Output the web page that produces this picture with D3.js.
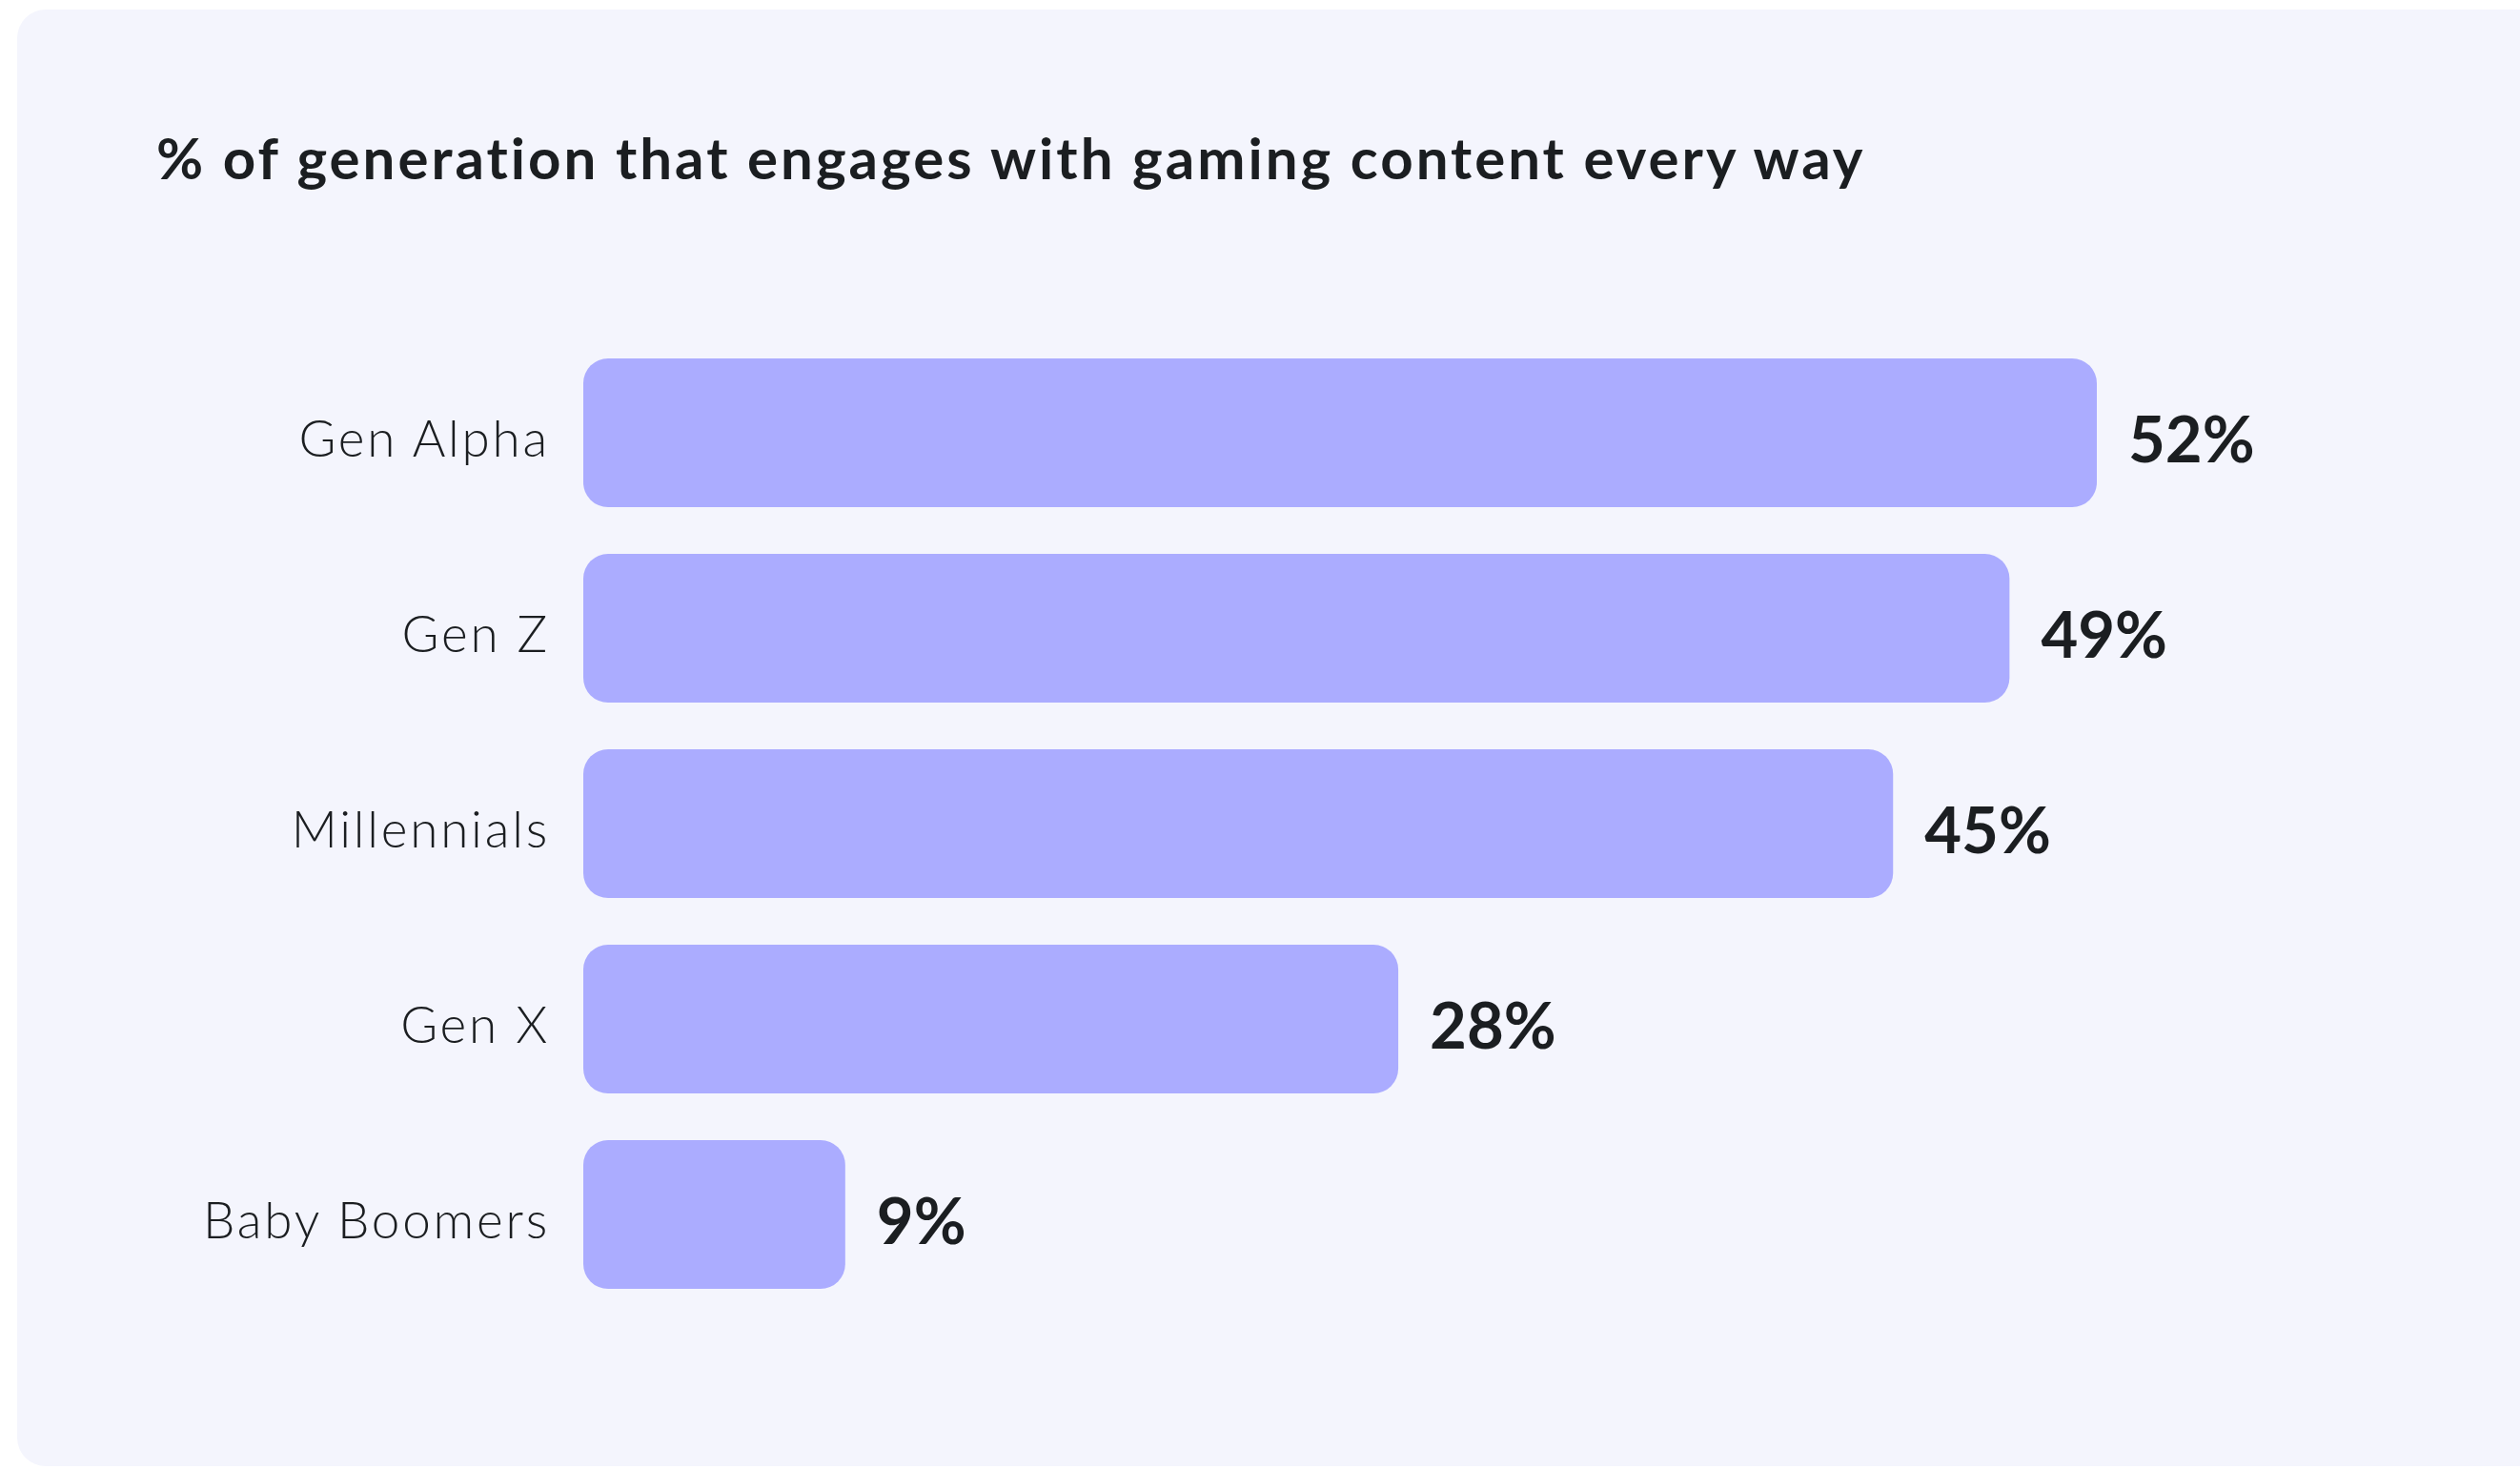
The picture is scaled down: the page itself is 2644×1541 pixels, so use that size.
<!DOCTYPE html>
<html>
<head>
<meta charset="utf-8">
<script src="https://cdn.jsdelivr.net/npm/d3@7"></script>
<style>
  html, body { margin: 0; padding: 0; background: #ffffff; }
  svg { display: block; }
  text { font-variant-ligatures: none; font-feature-settings: "liga" 0; }
</style>
</head>
<body>
<svg id="chart" width="2644" height="1541"></svg>
<script>
// Share of each generation that engages with gaming content in every way (%)
const generations = ["Gen Alpha", "Gen Z", "Millennials", "Gen X", "Baby Boomers"];
const shares = [52, 49, 45, 28, 9];
const chartTitle = "% of generation that engages with gaming content every way";

const data = generations.map((g, i) => ({ name: g, value: shares[i] }));

const W = 2644, H = 1541;
const svg = d3.select("#chart");

const FONT = "Lato, 'Open Sans', sans-serif";
const INK = "#1b1e21";
const BAR = "#abacff";

// Card background
svg.append("rect")
  .attr("x", 18).attr("y", 10)
  .attr("width", W + 40).attr("height", 1528)
  .attr("rx", 30).attr("ry", 30)
  .attr("fill", "#f4f5fd");

// Title
svg.append("text")
  .attr("x", 164).attr("y", 188)
  .attr("font-family", FONT)
  .attr("font-weight", 700)
  .attr("font-size", 60)
  .attr("letter-spacing", 3.0)
  .attr("fill", INK)
  .text(chartTitle);

// Scales
const x = d3.scaleLinear()
  .domain([0, 52])
  .range([612, 2200]);

const y = d3.scaleBand()
  .domain(generations)
  .range([376, 1352])
  .paddingInner(0.239)
  .paddingOuter(0);

// Bars
svg.append("g")
  .selectAll("rect")
  .data(data)
  .join("rect")
  .attr("x", x(0))
  .attr("y", d => y(d.name))
  .attr("width", d => x(d.value) - x(0))
  .attr("height", y.bandwidth())
  .attr("rx", 26).attr("ry", 26)
  .attr("fill", BAR);

// Category labels (left axis without domain line or ticks)
const yAxis = d3.axisLeft(y).tickSize(0).tickPadding(0);
const axisG = svg.append("g")
  .attr("transform", `translate(${x(0) - 35},0)`)
  .call(yAxis);
axisG.select(".domain").remove();
axisG.selectAll("text")
  .attr("font-family", FONT)
  .attr("font-weight", 300)
  .attr("font-size", 53)
  .attr("letter-spacing", 2.8)
  .attr("fill", INK)
  .attr("dy", null)
  .attr("y", 25);

// Value labels
svg.append("g")
  .selectAll("text")
  .data(data)
  .join("text")
  .attr("x", d => x(d.value) + 33)
  .attr("y", d => y(d.name) + y.bandwidth() / 2 + 31)
  .attr("font-family", FONT)
  .attr("font-weight", 700)
  .attr("font-size", 67)
  .attr("fill", INK)
  .text(d => d.value + "%");
</script>
</body>
</html>
